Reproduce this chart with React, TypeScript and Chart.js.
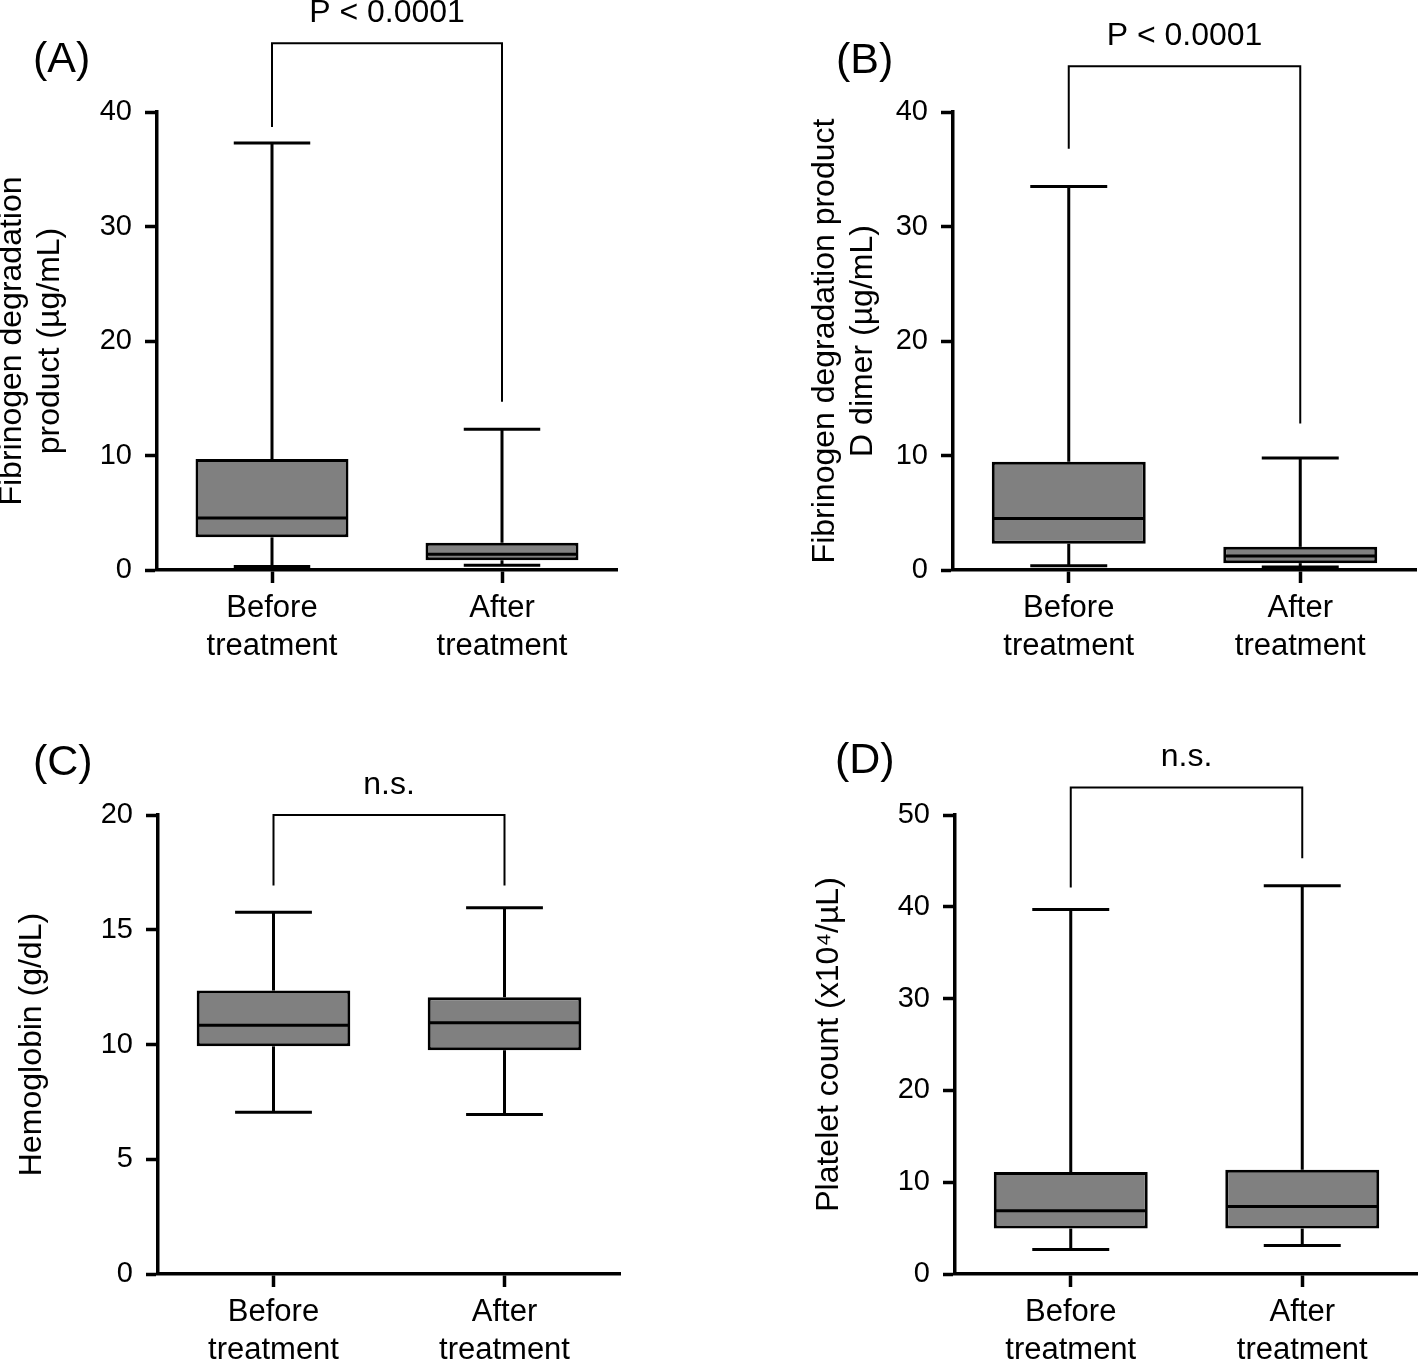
import React, { useEffect, useRef } from "react";
import { Chart, registerables } from "chart.js";

Chart.register(...registerables);

const FONT = "'Liberation Sans', Arial, Helvetica, sans-serif";

// Shared categories
const categories = [["Before", "treatment"], ["After", "treatment"]];

// (A) Fibrinogen degradation product (µg/mL)
const fdpTicks = [0, 10, 20, 30, 40];
const fdpMin = [0.3, 0.42];
const fdpQ1 = [2.85, 0.85];
const fdpMedian = [4.55, 1.38];
const fdpQ3 = [9.7, 2.38];
const fdpMax = [37.3, 12.3];
const fdpBracket = [46.0, 38.7, 14.7]; // top, left leg end, right leg end

// (B) Fibrinogen degradation product D dimer (µg/mL)
const ddTicks = [0, 10, 20, 30, 40];
const ddMin = [0.38, 0.26];
const ddQ1 = [2.3, 0.6];
const ddMedian = [4.5, 1.22];
const ddQ3 = [9.45, 2.02];
const ddMax = [33.5, 9.78];
const ddBracket = [44.0, 36.8, 12.8];

// (C) Hemoglobin (g/dL)
const hbTicks = [0, 5, 10, 15, 20];
const hbMin = [7.05, 6.95];
const hbQ1 = [9.92, 9.75];
const hbMedian = [10.84, 10.95];
const hbQ3 = [12.35, 12.06];
const hbMax = [15.76, 15.96];
const hbBracket = [20.0, 16.93, 16.93];

// (D) Platelet count (x10^4/µL)
const pltTicks = [0, 10, 20, 30, 40, 50];
const pltMin = [2.66, 3.1];
const pltQ1 = [4.95, 4.95];
const pltMedian = [6.9, 7.35];
const pltQ3 = [11.1, 11.35];
const pltMax = [39.7, 42.3];
const pltBracket = [53.0, 42.1, 45.3];

type PanelCfg = {
  label: string;
  labelX: number;
  labelY: number;
  yTitle: string | string[];
  ticks: number[];
  min: number[];
  q1: number[];
  median: number[];
  q3: number[];
  max: number[];
  bracket: number[];
  bracketText: string;
  left: number;
  top: number;
  width: number;
  height: number;
  padTop: number;
  padRight: number;
  yWidth: number;
  xHeight: number;
};

const panels: PanelCfg[] = [
  {
    label: "(A)", labelX: 33, labelY: 72,
    yTitle: ["Fibrinogen degradation", "product (µg/mL)"],
    ticks: fdpTicks, min: fdpMin, q1: fdpQ1, median: fdpMedian, q3: fdpQ3, max: fdpMax,
    bracket: fdpBracket, bracketText: "P < 0.0001",
    left: -7, top: 0, width: 707, height: 680, padTop: 112, padRight: 83, yWidth: 164, xHeight: 110,
  },
  {
    label: "(B)", labelX: 836, labelY: 73,
    yTitle: ["Fibrinogen degradation product", "D dimer (µg/mL)"],
    ticks: ddTicks, min: ddMin, q1: ddQ1, median: ddMedian, q3: ddQ3, max: ddMax,
    bracket: ddBracket, bracketText: "P < 0.0001",
    left: 806, top: 0, width: 612, height: 680, padTop: 112, padRight: 2, yWidth: 147, xHeight: 110,
  },
  {
    label: "(C)", labelX: 33, labelY: 775,
    yTitle: "Hemoglobin (g/dL)",
    ticks: hbTicks, min: hbMin, q1: hbQ1, median: hbMedian, q3: hbQ3, max: hbMax,
    bracket: hbBracket, bracketText: "n.s.",
    left: 13, top: 680, width: 687, height: 679, padTop: 135, padRight: 80, yWidth: 145, xHeight: 85,
  },
  {
    label: "(D)", labelX: 835, labelY: 773,
    yTitle: "Platelet count (x10⁴/µL)",
    ticks: pltTicks, min: pltMin, q1: pltQ1, median: pltMedian, q3: pltQ3, max: pltMax,
    bracket: pltBracket, bracketText: "n.s.",
    left: 810, top: 680, width: 608, height: 679, padTop: 135, padRight: 0, yWidth: 145, xHeight: 85,
  },
];

function Panel({ cfg }: { cfg: PanelCfg }) {
  const ref = useRef<HTMLCanvasElement | null>(null);

  useEffect(() => {
    const canvas = ref.current;
    if (!canvas) return;

    const boxPlugin = {
      id: "boxWhiskers",
      afterDatasetsDraw(chart: any) {
        const { ctx } = chart;
        const xs = chart.scales.x;
        const ys = chart.scales.y;
        const meta = chart.getDatasetMeta(0);
        ctx.save();
        ctx.strokeStyle = "#000";
        ctx.lineWidth = 3;
        ctx.lineCap = "butt";
        const seg = (x1: number, y1: number, x2: number, y2: number) => {
          ctx.beginPath();
          ctx.moveTo(x1, y1);
          ctx.lineTo(x2, y2);
          ctx.stroke();
        };
        meta.data.forEach((bar: any, i: number) => {
          const cx = xs.getPixelForValue(i);
          const w = bar.width;
          const yMin = ys.getPixelForValue(cfg.min[i]);
          const yQ1 = ys.getPixelForValue(cfg.q1[i]);
          const yMed = ys.getPixelForValue(cfg.median[i]);
          const yQ3 = ys.getPixelForValue(cfg.q3[i]);
          const yMax = ys.getPixelForValue(cfg.max[i]);
          seg(cx, yQ3, cx, yMax);
          seg(cx, yQ1, cx, yMin);
          seg(cx - w / 4, yMax, cx + w / 4, yMax);
          seg(cx - w / 4, yMin, cx + w / 4, yMin);
          seg(cx - w / 2 + 1, yMed, cx + w / 2 - 1, yMed);
        });
        ctx.restore();
      },
      afterDraw(chart: any) {
        const { ctx } = chart;
        const xs = chart.scales.x;
        const ys = chart.scales.y;
        const xl = xs.getPixelForValue(0);
        const xr = xs.getPixelForValue(1);
        const yTop = ys.getPixelForValue(cfg.bracket[0]);
        const yL = ys.getPixelForValue(cfg.bracket[1]);
        const yR = ys.getPixelForValue(cfg.bracket[2]);
        ctx.save();
        ctx.strokeStyle = "#000";
        ctx.lineWidth = 2;
        ctx.beginPath();
        ctx.moveTo(xl, yL);
        ctx.lineTo(xl, yTop);
        ctx.lineTo(xr, yTop);
        ctx.lineTo(xr, yR);
        ctx.stroke();
        ctx.fillStyle = "#000";
        ctx.font = `32px ${FONT}`;
        ctx.textAlign = "center";
        ctx.textBaseline = "middle";
        ctx.fillText(cfg.bracketText, (xl + xr) / 2, yTop - 30);
        ctx.font = `43px ${FONT}`;
        ctx.textAlign = "left";
        ctx.textBaseline = "alphabetic";
        ctx.fillText(cfg.label, cfg.labelX - cfg.left, cfg.labelY - cfg.top);
        ctx.restore();
      },
    };

    const chart = new Chart(canvas, {
      type: "bar",
      data: {
        labels: categories,
        datasets: [
          {
            data: cfg.q1.map((v, i) => [v, cfg.q3[i]]),
            backgroundColor: "#808080",
            borderColor: "#000",
            borderWidth: 3,
            borderSkipped: false,
            barPercentage: 0.665,
            categoryPercentage: 1,
          } as any,
        ],
      },
      options: {
        animation: false,
        responsive: false,
        maintainAspectRatio: false,
        devicePixelRatio: 1,
        layout: { padding: { top: cfg.padTop, right: cfg.padRight, left: 0, bottom: 0 } },
        plugins: {
          legend: { display: false },
          tooltip: { enabled: false },
          title: { display: false },
        },
        scales: {
          x: {
            type: "category",
            offset: true,
            grid: {
              display: true,
              drawOnChartArea: false,
              drawTicks: true,
              tickLength: 13,
              tickWidth: 3.5,
              tickColor: "#000",
              offset: false,
            },
            border: { display: true, color: "#000", width: 3.5 },
            ticks: {
              color: "#000",
              font: { size: 31, family: FONT, lineHeight: 1.22 },
              padding: 7,
              maxRotation: 0,
              autoSkip: false,
            },
            afterFit: (s: any) => {
              s.height = cfg.xHeight;
            },
          },
          y: {
            type: "linear",
            min: cfg.ticks[0],
            max: cfg.ticks[cfg.ticks.length - 1],
            afterBuildTicks: (s: any) => {
              s.ticks = cfg.ticks.map((v) => ({ value: v }));
            },
            grid: {
              display: true,
              drawOnChartArea: false,
              drawTicks: true,
              tickLength: 12,
              tickWidth: 3.5,
              tickColor: "#000",
            },
            border: { display: true, color: "#000", width: 3.5 },
            ticks: {
              color: "#000",
              font: { size: 29, family: FONT },
              padding: 13,
            },
            title: {
              display: true,
              text: cfg.yTitle,
              color: "#000",
              font: { size: 32, family: FONT, lineHeight: 1.2 },
              padding: 0,
            },
            afterFit: (s: any) => {
              s.width = cfg.yWidth;
            },
          },
        },
      } as any,
      plugins: [boxPlugin],
    });

    return () => chart.destroy();
  }, [cfg]);

  return (
    <canvas
      ref={ref}
      width={cfg.width}
      height={cfg.height}
      style={{
        position: "absolute",
        left: cfg.left,
        top: cfg.top,
        width: cfg.width,
        height: cfg.height,
      }}
    />
  );
}

export default function App() {
  return (
    <div
      style={{
        position: "absolute",
        left: 0,
        top: 0,
        width: 1418,
        height: 1359,
        overflow: "hidden",
        background: "#fff",
      }}
    >
      {panels.map((p) => (
        <Panel key={p.label} cfg={p} />
      ))}
    </div>
  );
}
